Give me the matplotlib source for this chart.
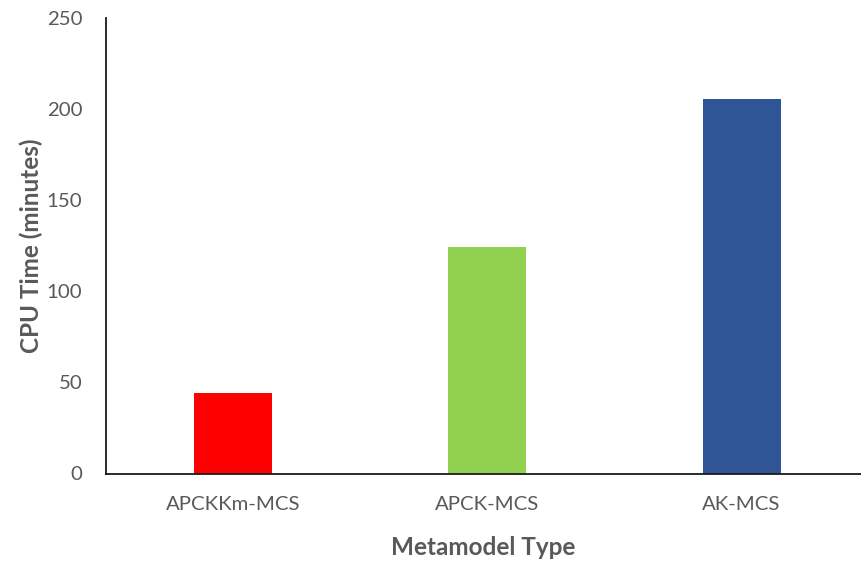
import matplotlib

matplotlib.use("Agg")

import matplotlib.pyplot as plt

# CPU time per metamodel
models = ["APCKKm-MCS", "APCK-MCS", "AK-MCS"]
cpu_minutes = [44.2, 124.3, 205.4]
bar_colors = ["#ff0000", "#92d050", "#2f5597"]
y_ticks = [0, 50, 100, 150, 200, 250]

plt.rcParams["font.family"] = ["Lato", "DejaVu Sans"]

fig = plt.figure(figsize=(8.61, 5.63), dpi=100)
ax = fig.add_axes([106 / 861, 1 - 473.5 / 563, 1 - 106 / 861, 455.5 / 563])

x = range(len(models))
ax.bar(x, cpu_minutes, width=0.307, color=bar_colors, zorder=2)

ax.set_xlim(-0.5, 2.47)
ax.set_ylim(0, 250)
ax.set_yticks(y_ticks)
ax.set_xticks(list(x))
ax.set_xticklabels(models)
ax.tick_params(axis="both", length=0, labelsize=14.7, colors="#595959")
ax.tick_params(axis="x", pad=16)
ax.tick_params(axis="y", pad=17)

for side in ["top", "right"]:
    ax.spines[side].set_visible(False)
for side in ["left", "bottom"]:
    ax.spines[side].set_color("#1a1a1a")
    ax.spines[side].set_linewidth(1.3)

ax.set_xlabel("Metamodel Type", fontsize=17.5, fontweight="bold", color="#595959", labelpad=17)
ax.set_ylabel("CPU Time (minutes)", fontsize=17.5, fontweight="bold", color="#595959", labelpad=3)

fig.savefig("out.png", dpi=100)
